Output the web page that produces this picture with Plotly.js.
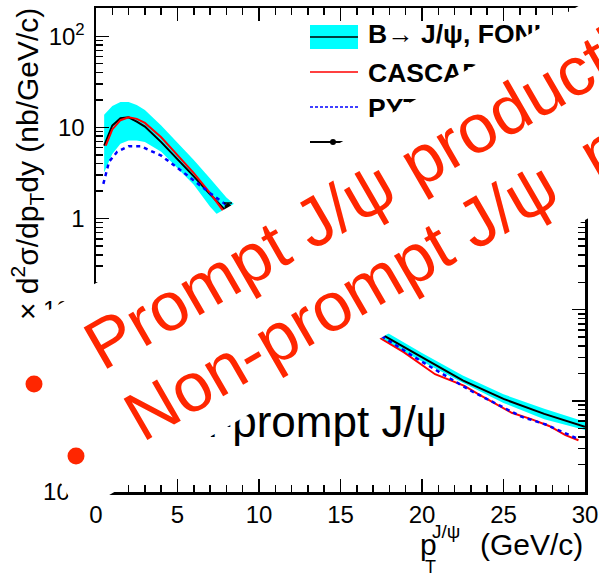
<!DOCTYPE html>
<html>
<head>
<meta charset="utf-8">
<script src="https://cdn.plot.ly/plotly-3.0.1.min.js"></script>
<style>
  html, body { margin: 0; padding: 0; background: #fff; }
  #plot { width: 599px; height: 575px; }
</style>
</head>
<body>
<div id="plot"></div>
<script>
// ---- b -> J/psi, FONLL prediction: central value and uncertainty band ----
const fonllPt    = [0.5, 1, 1.5, 2, 2.5, 3, 4, 5, 6, 7, 8, 17.5, 20, 22.5, 25, 27.5, 30];
const fonllCent  = [6.3, 10.5, 12.6, 12.9, 11.6, 10.2, 6.9, 4.5, 2.9, 1.85, 1.2,
                    0.054, 0.030, 0.0168, 0.0105, 0.0072, 0.0052];
const fonllUpper = [13.8, 17.2, 19.0, 19.0, 17.6, 15.5, 10.5, 6.8, 4.4, 2.75, 1.70,
                    0.061, 0.0335, 0.019, 0.0118, 0.0082, 0.0059];
const fonllLower = [3.2, 5.1, 6.6, 7.2, 7.2, 6.9, 5.4, 3.6, 2.35, 1.35, 0.86,
                    0.047, 0.027, 0.0158, 0.0095, 0.0063, 0.0048];

// ---- CASCADE ----
const cascadePt  = [0.6, 1, 1.5, 2, 2.5, 3, 4, 5, 6, 7, 7.8,
                    17.5, 18.9, 20.8, 22.6, 23.4, 25.5, 26.7, 27.8, 28.8, 29.6];
const cascadeVal = [6.3, 9.5, 12.0, 12.9, 12.4, 11.2, 7.8, 5.0, 3.15, 1.9, 1.22,
                    0.048, 0.034, 0.0196, 0.0146, 0.012, 0.0074, 0.0063, 0.0053, 0.0042, 0.0037];

// ---- PYTHIA ----
const pythiaPt  = [0.45, 0.8, 1.3, 2, 2.75, 4, 5, 6, 7, 7.9,
                   17.7, 19.9, 23, 26.1, 27.6, 29.6];
const pythiaVal = [2.4, 4.2, 5.4, 6.2, 6.2, 4.9, 3.6, 2.6, 1.9, 1.45,
                   0.049, 0.0275, 0.0129, 0.0067, 0.0055, 0.0038];

// ---- measurement ----
const dataPt  = [8.1];
const dataVal = [1.33];
const dataErr = [0.15];

// ---- text ----
const legendLabels = ['B\u2192 J/\u03c8, FONLL', 'CASCADE', 'PYTHIA', 'LHCb'];
const plotLabel = 'Non-prompt J/\u03c8';
const bulletLines = ['Prompt J/\u03c8 production', 'Non-prompt J/\u03c8\u00a0\u00a0production'];
const yTickVals = [0.001, 0.01, 0.1, 1, 10, 100];
const yTickText = ['10<sup>-3</sup>', '10<sup>-2</sup>', '10<sup>-1</sup>', '1', '10', '10<sup>2</sup>'];

// ---- geometry helpers (pixel -> paper / data) ----
const W = 599, H = 575, ML = 96, MR = 14, MT = 8, MB = 83;
const PW = W - ML - MR, PH = H - MT - MB;
const XR = [0, 30], YR = [-3, 2.31];
const px = x => (x - ML) / PW;
const py = y => (H - MB - y) / PH;
const xd = x => XR[0] + (x - ML) / PW * (XR[1] - XR[0]);
const yd = y => Math.pow(10, YR[1] - (y - MT) / PH * (YR[1] - YR[0]));

const FONT = 'Liberation Sans, Arial, Helvetica, sans-serif';
const RED = 'rgb(255,38,0)';

// closed band polygon: upper edge forward, lower edge backward
const bandX = fonllPt.concat(fonllPt.slice().reverse());
const bandY = fonllUpper.concat(fonllLower.slice().reverse());

const traces = [
  { x: bandX, y: bandY, mode: 'lines', fill: 'toself', fillcolor: '#00ffff',
    line: { width: 0, color: '#00ffff' }, hoverinfo: 'skip', showlegend: false },
  { x: fonllPt, y: fonllCent, mode: 'lines', line: { color: '#000', width: 2 }, showlegend: false },
  { x: cascadePt, y: cascadeVal, mode: 'lines', line: { color: '#ff0000', width: 2 }, showlegend: false },
  { x: pythiaPt, y: pythiaVal, mode: 'lines', line: { color: '#0000ff', width: 2.5, dash: '4px,4px' }, showlegend: false },
  { x: dataPt, y: dataVal, mode: 'markers', marker: { color: '#000', size: 7 },
    error_y: { type: 'data', array: dataErr, color: '#000', thickness: 1.5, width: 4 }, showlegend: false },
  // legend labels (sit under the white overlay)
  { x: [xd(368), xd(368), xd(368), xd(368)], y: [yd(36), yd(75), yd(110), yd(142)],
    mode: 'text', text: legendLabels, textposition: 'middle right',
    textfont: { family: FONT, size: 26.5, color: '#000', weight: 'bold' },
    hoverinfo: 'skip', showlegend: false },
  // curve label
  { x: [xd(447)], y: [yd(426)], mode: 'text', text: [plotLabel], textposition: 'middle left',
    textfont: { family: FONT, size: 44, color: '#000' }, hoverinfo: 'skip', showlegend: false }
];

// white slide panel, rotated by 30 degrees
const panel = [[-17.0, 347.9], [700, -63.7], [700, 153.5], [78.2, 512.9]];
const panelPath = 'M ' + panel.map(p => px(p[0]).toFixed(5) + ',' + py(p[1]).toFixed(5)).join(' L ') + ' Z';

function rectPx(x0, y0, x1, y1, extra) {
  return Object.assign({ type: 'rect', xref: 'paper', yref: 'paper',
    x0: px(x0), x1: px(x1), y0: py(y1), y1: py(y0), layer: 'above' }, extra);
}
function linePx(x0, y0, x1, y1, line) {
  return { type: 'line', xref: 'paper', yref: 'paper', x0: px(x0), x1: px(x1),
    y0: py(y0), y1: py(y1), layer: 'above', line: line };
}
function dotPx(cx, cy, r, color) {
  return { type: 'circle', xref: 'paper', yref: 'paper', x0: px(cx - r), x1: px(cx + r),
    y0: py(cy + r), y1: py(cy - r), layer: 'above', fillcolor: color, line: { width: 0 } };
}

const shapes = [
  // legend symbols
  rectPx(310, 25, 358, 49, { fillcolor: '#00ffff', line: { width: 0 } }),
  linePx(310, 37, 358, 37, { color: '#000', width: 1.5 }),
  linePx(310, 72, 358, 72, { color: '#ff0000', width: 1.5 }),
  linePx(310, 107, 358, 107, { color: '#0000ff', width: 1.5, dash: '3px,2px' }),
  linePx(310, 142, 345, 142, { color: '#000', width: 2 }),
  dotPx(333, 142, 3, '#000'),
  // slide panel
  { type: 'path', xref: 'paper', yref: 'paper', path: panelPath, fillcolor: '#fff',
    line: { width: 0 }, layer: 'above' },
  // bullets
  dotPx(34, 384, 8.5, RED),
  dotPx(76, 456, 8.5, RED)
];

// rotated bullet text: anchor the rotated box by the lower-left corner of the text line
const BSIZE = 69;
function slideLine(sx, sy, text) {
  const d = 0.212 * BSIZE + 2, h = 1.117 * BSIZE + 4;
  const blx = sx + 0.5 * d - 0.866 * 2, bly = sy + 0.866 * d + 0.5 * 2;
  return { xref: 'paper', yref: 'paper', x: px(blx - 0.5 * h), y: py(bly), text: text,
    textangle: -30, showarrow: false, xanchor: 'left', yanchor: 'bottom',
    font: { family: FONT, size: BSIZE, color: RED } };
}

const annotations = [
  slideLine(103, 372, bulletLines[0]),
  slideLine(143, 443, bulletLines[1]),
  // y-axis title
  { xref: 'paper', yref: 'paper', x: px(27), y: py(164),
    text: '\u00d7 d<sup>2</sup>\u03c3/dp<sub>T</sub>dy (nb/GeV/c)',
    textangle: -90, showarrow: false, xanchor: 'center', yanchor: 'middle',
    font: { family: FONT, size: 30, color: '#000' } },
  // x-axis title: p, stacked J/psi and T, then units
  { xref: 'paper', yref: 'paper', x: px(418), y: py(544.6), text: 'p',
    showarrow: false, xanchor: 'left', yanchor: 'middle',
    font: { family: FONT, size: 30, color: '#000' } },
  { xref: 'paper', yref: 'paper', x: px(430), y: py(531), text: 'J/\u03c8',
    showarrow: false, xanchor: 'left', yanchor: 'middle',
    font: { family: FONT, size: 19, color: '#000' } },
  { xref: 'paper', yref: 'paper', x: px(423), y: py(566.5), text: 'T',
    showarrow: false, xanchor: 'left', yanchor: 'middle',
    font: { family: FONT, size: 18, color: '#000' } },
  { xref: 'paper', yref: 'paper', x: px(585), y: py(544.6), text: '(GeV/c)',
    showarrow: false, xanchor: 'right', yanchor: 'middle',
    font: { family: FONT, size: 30, color: '#000' } }
];

const yMinor = [];
for (let e = -3; e <= 2; e++) for (let k = 2; k <= 9; k++) yMinor.push(k * Math.pow(10, e));

const axisCommon = {
  showgrid: false, zeroline: false, showline: true, linecolor: '#000', linewidth: 2.5,
  mirror: 'ticks', ticks: 'inside', ticklen: 13, tickwidth: 1.5, tickcolor: '#000',
  tickfont: { family: FONT, size: 24, color: '#000' }
};

const layout = {
  width: W, height: H,
  margin: { l: ML, r: MR, t: MT, b: MB, pad: 0 },
  paper_bgcolor: '#fff', plot_bgcolor: '#fff',
  showlegend: false,
  xaxis: Object.assign({}, axisCommon, {
    range: XR, dtick: 5, tick0: 0,
    minor: { ticks: 'inside', ticklen: 7, tickwidth: 1.5, tickcolor: '#000', dtick: 1, showgrid: false }
  }),
  yaxis: Object.assign({}, axisCommon, {
    type: 'log', range: YR, tickmode: 'array', tickvals: yTickVals, ticktext: yTickText,
    ticklabelstandoff: 4,
    minor: { ticks: 'inside', ticklen: 7, tickwidth: 1.5, tickcolor: '#000',
             tickmode: 'array', tickvals: yMinor, showgrid: false }
  }),
  shapes: shapes,
  annotations: annotations
};

Plotly.newPlot('plot', traces, layout, { staticPlot: true });
</script>
</body>
</html>
